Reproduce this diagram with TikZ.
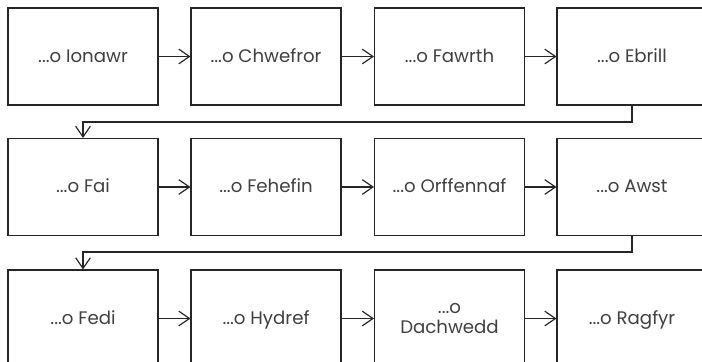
\documentclass[tikz,border=0pt]{standalone}
\usepackage{fontspec}
\setmainfont{Poppins}
\usetikzlibrary{arrows.meta}
\tikzset{
  month/.style={draw=black!85,line width=0.9pt,fill=white,minimum width=4.5cm,minimum height=2.91cm,
    font=\fontsize{15.5}{17}\selectfont,text=black!75,align=center,inner sep=0pt,
    text height=2.4ex,text depth=.6ex},
  link/.style={draw=black!85,line width=1pt,-{Straight Barb[length=3.2mm,width=4.4mm]}}
}
\begin{document}
\begin{tikzpicture}[x=0.03cm,y=-0.03cm]
 \clip (0,0) rectangle (702,361);
 \fill[white] (0,0) rectangle (702,361);
 % row 1
 \node[month] (ion) at (83,56.5) {...o Ionawr};
 \node[month] (chw) at (266,56.5) {...o Chwefror};
 \node[month] (maw) at (449.5,56.5) {...o Fawrth};
 \node[month] (ebr) at (632,56.5) {...o Ebrill};
 % row 2
 \node[month] (mai) at (83,187) {...o Fai};
 \node[month] (meh) at (266,187) {...o Fehefin};
 \node[month] (gor) at (449.5,187) {...o Orffennaf};
 \node[month] (aws) at (632,187) {...o Awst};
 % row 3
 \node[month] (med) at (83,318.5) {...o Fedi};
 \node[month] (hyd) at (266,318.5) {...o Hydref};
 \node[month,text height=,text depth=] (tach) at (449.5,318.5) {...o\\Dachwedd};
 \node[month] (rha) at (632,318.5) {...o Ragfyr};
 \draw[link] (ion) -- (chw); \draw[link] (chw) -- (maw); \draw[link] (maw) -- (ebr);
 \draw[link] (ebr.south) |- (83,122) -- (mai.north);
 \draw[link] (mai) -- (meh); \draw[link] (meh) -- (gor); \draw[link] (gor) -- (aws);
 \draw[link] (aws.south) |- (83,252) -- (med.north);
 \draw[link] (med) -- (hyd); \draw[link] (hyd) -- (tach); \draw[link] (tach) -- (rha);
\end{tikzpicture}
\end{document}
